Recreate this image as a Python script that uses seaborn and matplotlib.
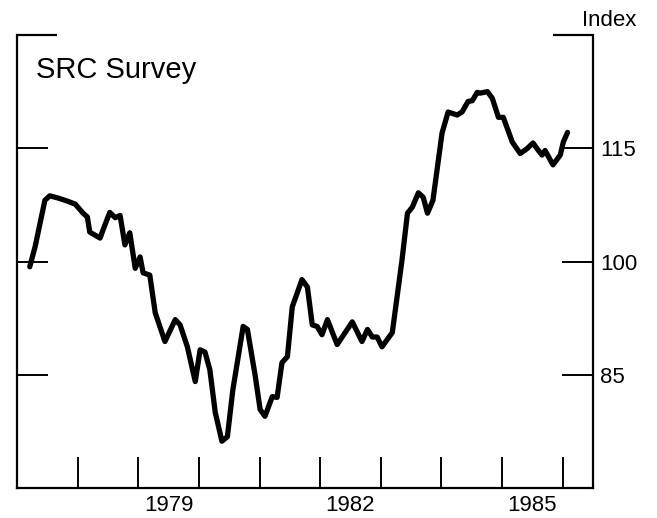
import pandas as pd
import matplotlib.pyplot as plt
import seaborn as sns

# Indice SRC (trazado del grafico), fecha en anios decimales
fechas = [1977.21, 1977.30, 1977.46, 1977.54, 1977.68, 1977.83, 1977.96, 1978.09,
          1978.16, 1978.20, 1978.37, 1978.42, 1978.53, 1978.62, 1978.70, 1978.78,
          1978.86, 1978.95, 1979.03, 1979.08, 1979.19, 1979.28, 1979.44, 1979.61,
          1979.69, 1979.81, 1979.94, 1980.02, 1980.10, 1980.18, 1980.27, 1980.38,
          1980.47, 1980.56, 1980.73, 1980.80, 1980.93, 1981.01, 1981.09, 1981.21,
          1981.29, 1981.37, 1981.46, 1981.54, 1981.70, 1981.79, 1981.87, 1981.95,
          1982.03, 1982.12, 1982.28, 1982.53, 1982.69, 1982.78, 1982.86, 1982.94,
          1983.02, 1983.19, 1983.35, 1983.44, 1983.52, 1983.62, 1983.70, 1983.77,
          1983.86, 1984.01, 1984.11, 1984.26, 1984.34, 1984.44, 1984.51, 1984.59,
          1984.64, 1984.76, 1984.84, 1984.94, 1985.02, 1985.17, 1985.30, 1985.42,
          1985.51, 1985.60, 1985.66, 1985.71, 1985.84, 1985.96, 1986.01, 1986.08]
indice = [99.3, 102.0, 108.1, 108.7, 108.4, 108.0, 107.6, 106.4,
          105.9, 103.9, 103.1, 104.2, 106.5, 105.8, 106.1, 102.2,
          103.8, 99.1, 100.6, 98.5, 98.2, 93.2, 89.4, 92.3,
          91.6, 88.7, 84.1, 88.3, 88.0, 85.7, 80.0, 76.2,
          76.8, 83.0, 91.4, 91.0, 84.8, 80.4, 79.5, 82.1,
          82.0, 86.6, 87.4, 94.0, 97.6, 96.6, 91.6, 91.4,
          90.3, 92.3, 89.0, 92.0, 89.4, 91.0, 90.0, 90.0,
          88.7, 90.6, 100.2, 106.4, 107.2, 109.1, 108.5, 106.4,
          108.1, 117.0, 119.8, 119.4, 119.8, 121.2, 121.3, 122.4,
          122.3, 122.5, 121.6, 119.1, 119.1, 115.8, 114.3, 115.0,
          115.7, 114.7, 114.1, 114.7, 112.8, 114.1, 115.8, 117.1]

anios_limite = [1978, 1979, 1980, 1981, 1982, 1983, 1984, 1985, 1986]
anios_etiqueta = ["1979", "1982", "1985"]
niveles = [85, 100, 115]

df = pd.DataFrame({"fecha": fechas, "indice": indice})

sns.set_theme(style="white")
plt.rcParams["font.family"] = ["Liberation Sans", "DejaVu Sans"]
plt.rcParams["text.color"] = "black"
plt.rcParams["xtick.color"] = "black"
plt.rcParams["ytick.color"] = "black"

fig = plt.figure(figsize=(6.57, 5.18), dpi=100)
ax = fig.add_axes([17 / 657, 30 / 518, 576 / 657, 453 / 518])

sns.lineplot(data=df, x="fecha", y="indice", color="black", linewidth=3.8, ax=ax,
             solid_joinstyle="round", solid_capstyle="round")

ax.set_xlim(1977, 1986.5)
ax.set_ylim(70, 130)
ax.set_xlabel("")
ax.set_ylabel("")

for lado in ["left", "right", "bottom"]:
    ax.spines[lado].set_color("black")
    ax.spines[lado].set_linewidth(1.6)
ax.spines["top"].set_visible(False)

# ticks de anio (sin etiqueta) y etiquetas a mitad de anio
ax.set_xticks(anios_limite)
ax.set_xticklabels([])
ax.set_xticks([int(a) + 0.5 for a in anios_etiqueta], minor=True)
ax.set_xticklabels(anios_etiqueta, minor=True, fontsize=16)
ax.tick_params(axis="x", which="major", direction="in", length=22, width=1.4,
               bottom=True, top=False)
ax.tick_params(axis="x", which="minor", bottom=True, length=0, pad=5)

ax.set_yticks(niveles)
ax.set_yticklabels([str(n) for n in niveles], fontsize=16)
ax.set_yticks([130], minor=True)
ax.tick_params(axis="y", which="major", direction="in", length=22, width=1.4,
               left=True, right=True, labelleft=False, labelright=True, pad=5)
ax.tick_params(axis="y", which="minor", direction="in", length=29, width=1.6,
               left=True, right=True, labelleft=False, labelright=False)

ax.annotate("Index", xy=(1.075, 1.033), xycoords="axes fraction", ha="right", va="center",
            fontsize=16)
ax.annotate("SRC Survey", xy=(0.033, 0.923), xycoords="axes fraction", ha="left", va="center",
            fontsize=21)

plt.savefig("out.png", dpi=100)
